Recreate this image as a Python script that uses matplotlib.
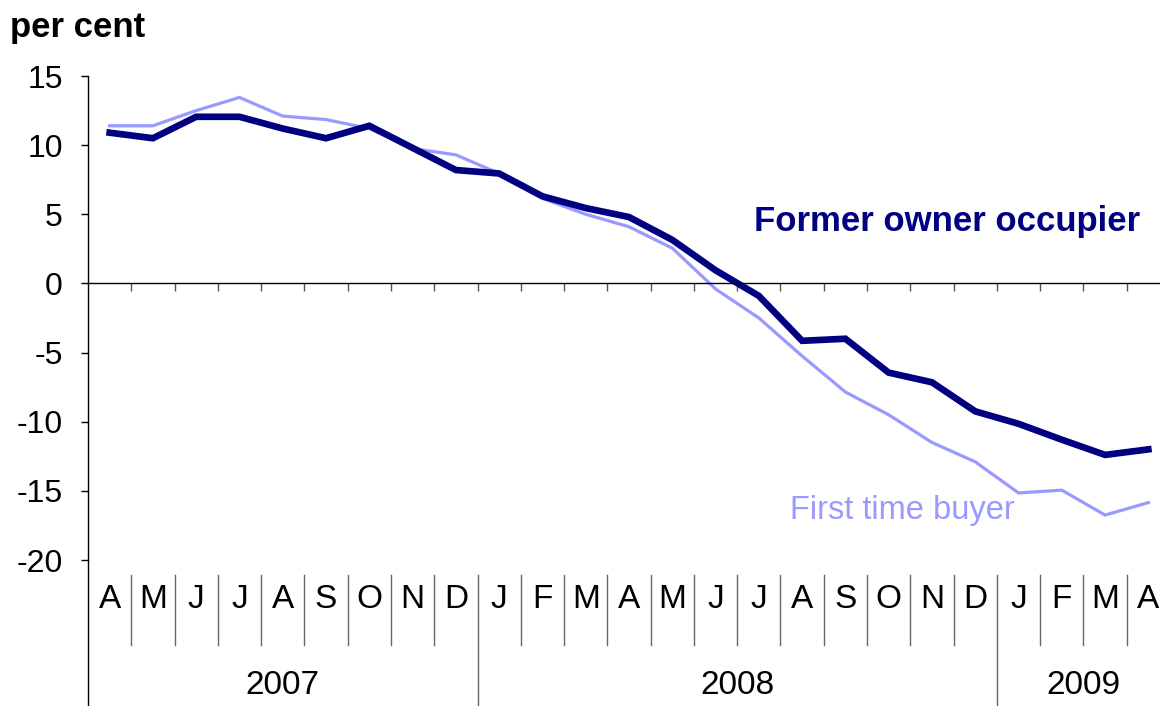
import matplotlib
matplotlib.use("Agg")
import matplotlib.pyplot as plt
import matplotlib.transforms as mtransforms

plt.rcParams["font.family"] = ["Liberation Sans", "DejaVu Sans"]

# monthly annual house price change, Apr 2007 - Apr 2009
months = ["A", "M", "J", "J", "A", "S", "O", "N", "D",
          "J", "F", "M", "A", "M", "J", "J", "A", "S", "O", "N", "D",
          "J", "F", "M", "A"]
years = ["2007", "2008", "2009"]
year_counts = [9, 12, 4]

former_owner = [10.9, 10.5, 12.05, 12.05, 11.2, 10.5, 11.4, 9.8, 8.2,
                7.95, 6.3, 5.45, 4.8, 3.15, 0.95, -0.9, -4.15, -4.0, -6.45, -7.15, -9.25,
                -10.15, -11.3, -12.4, -12.0]
first_time = [11.4, 11.4, 12.5, 13.45, 12.1, 11.85, 11.2, 9.75, 9.3,
              7.95, 6.15, 5.0, 4.1, 2.55, -0.4, -2.5, -5.25, -7.85, -9.5, -11.5, -12.9,
              -15.15, -14.95, -16.75, -15.85]

W, H = 1160, 706
fig = plt.figure(figsize=(W / 100, H / 100), dpi=100)
ax_left, ax_right, ax_top, ax_bot = 88, 1170, 76, 560
ax = fig.add_axes([ax_left / W, 1 - ax_bot / H, (ax_right - ax_left) / W, (ax_bot - ax_top) / H])

x = [i + 0.5 for i in range(len(months))]
ax.plot(x, first_time, color="#9999FF", lw=2.3, solid_joinstyle="miter")
ax.plot(x, former_owner, color="#000080", lw=4.8, solid_joinstyle="miter")

ax.set_xlim(0, len(months))
ax.set_ylim(-20, 15)
ax.set_yticks([15, 10, 5, 0, -5, -10, -15, -20])
ax.set_yticklabels(["15", "10", "5", "0", "-5", "-10", "-15", "-20"])
ax.tick_params(axis="y", direction="out", length=5, width=1, pad=13, labelsize=23)

for s in ["top", "right"]:
    ax.spines[s].set_visible(False)
ax.spines["left"].set_linewidth(1)
ax.spines["bottom"].set_position(("data", 0))
ax.spines["bottom"].set_linewidth(1)
ax.set_xticks(range(1, len(months)))
ax.set_xticklabels([])
ax.tick_params(axis="x", direction="out", length=6, width=1, color="#555555")

# category axis below the plot
trans = mtransforms.blended_transform_factory(ax.transData, ax.transAxes)
hpx = ax_bot - ax_top
y_sep_top = -15 / hpx
y_sep_bot = -85 / hpx
y_far = -150 / hpx
ax.plot([0, 0], [0, y_far], transform=ax.transAxes, color="black", lw=1, clip_on=False)
bounds = [0]
for c in year_counts:
    bounds.append(bounds[-1] + c)
for k in range(1, len(months)):
    if k in bounds:
        ax.plot([k, k], [y_sep_top, y_far], transform=trans, color="#666666", lw=1, clip_on=False)
    else:
        ax.plot([k, k], [y_sep_top, y_sep_bot], transform=trans, color="#666666", lw=1, clip_on=False)
for i, m in enumerate(months):
    ax.text(i + 0.5, -40 / hpx, m, transform=trans, ha="center", va="center", fontsize=24)
for j, yr in enumerate(years):
    ax.text((bounds[j] + bounds[j + 1]) / 2, -126 / hpx, yr, transform=trans,
            ha="center", va="center", fontsize=24)

# series labels
ax.text(1140 / W, 1 - 222 / H, "Former owner occupier", transform=fig.transFigure,
        ha="right", va="center", fontsize=25, fontweight="bold", color="#000080")
ax.text(1015 / W, 1 - 511 / H, "First time buyer", transform=fig.transFigure,
        ha="right", va="center", fontsize=23.5, color="#9999FF")

fig.text(10 / W, 1 - 28 / H, "per cent", ha="left", va="center", fontsize=25, fontweight="bold")

fig.savefig("out.png", dpi=100)
